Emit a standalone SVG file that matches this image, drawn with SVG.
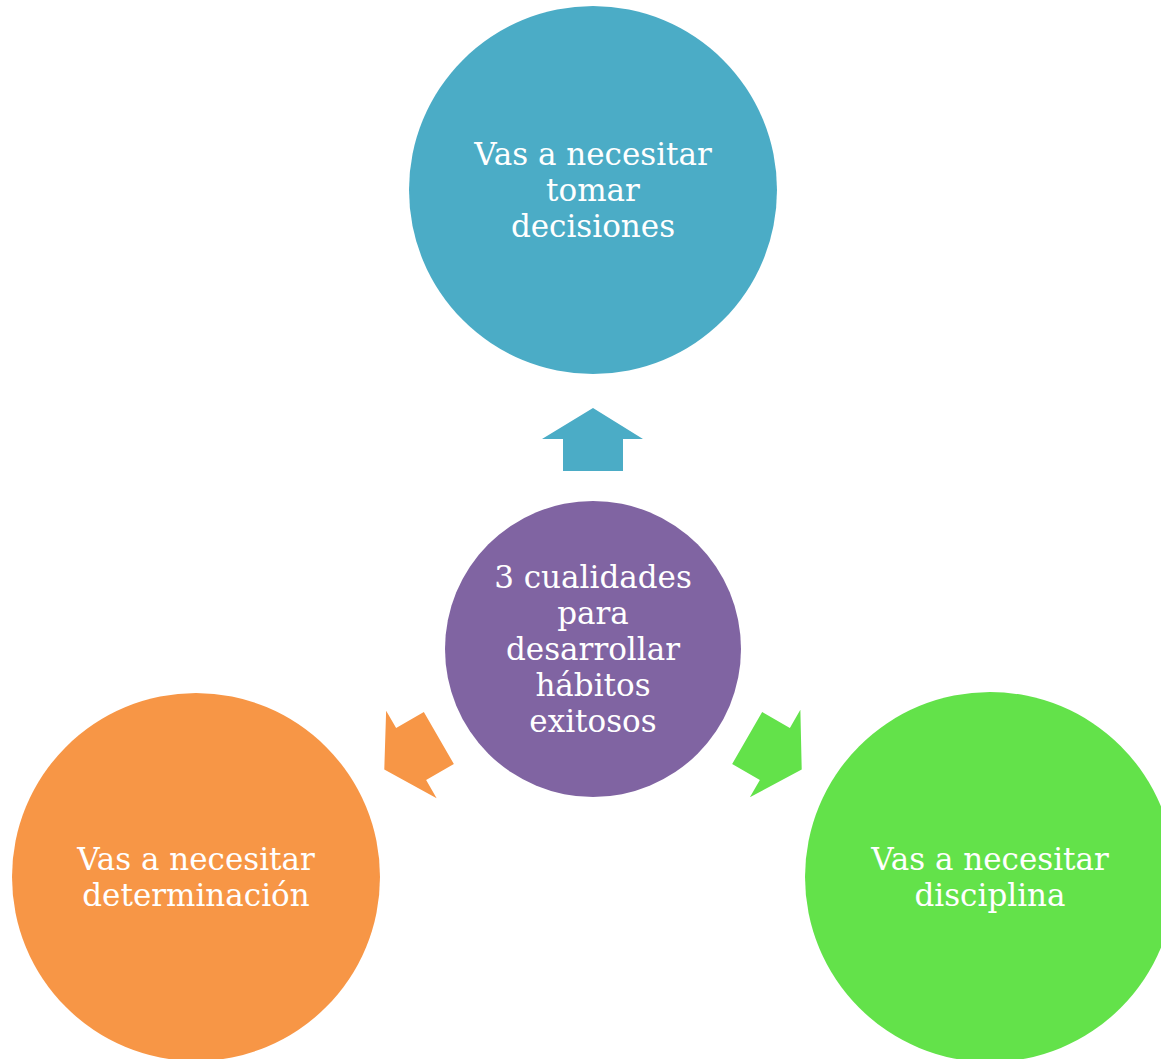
<svg xmlns="http://www.w3.org/2000/svg" width="1161" height="1059" viewBox="0 0 1161 1059">
<defs>
<style>
text{font-family:"DejaVu Serif","Liberation Serif",serif;font-size:31px;fill:#ffffff;text-anchor:middle}
</style>
<path id="arrow" d="M593,408 L643,439 L623,439 L623,471 L563,471 L563,439 L542,439 Z"/>
</defs>
<rect width="1161" height="1059" fill="#ffffff"/>
<g id="connectors">
<use href="#arrow" fill="#4BACC6"/>
<use href="#arrow" fill="#F79646" transform="rotate(240 593 649)"/>
<use href="#arrow" fill="#63E24A" transform="rotate(120 593 649)"/>
</g>
<g id="node-top">
<circle cx="593" cy="190" r="184" fill="#4BACC6"/>
<text x="593" y="165">Vas a necesitar</text>
<text x="593" y="201">tomar</text>
<text x="593" y="237">decisiones</text>
</g>
<g id="node-center">
<circle cx="593" cy="649" r="148" fill="#8064A2"/>
<text x="593" y="588">3 cualidades</text>
<text x="593" y="624">para</text>
<text x="593" y="660">desarrollar</text>
<text x="593" y="696">hábitos</text>
<text x="593" y="732">exitosos</text>
</g>
<g id="node-left">
<circle cx="196" cy="877" r="184" fill="#F79646"/>
<text x="196" y="870">Vas a necesitar</text>
<text x="196" y="906">determinación</text>
</g>
<g id="node-right">
<circle cx="990" cy="877" r="185" fill="#63E24A"/>
<text x="990" y="870">Vas a necesitar</text>
<text x="990" y="906">disciplina</text>
</g>
</svg>
